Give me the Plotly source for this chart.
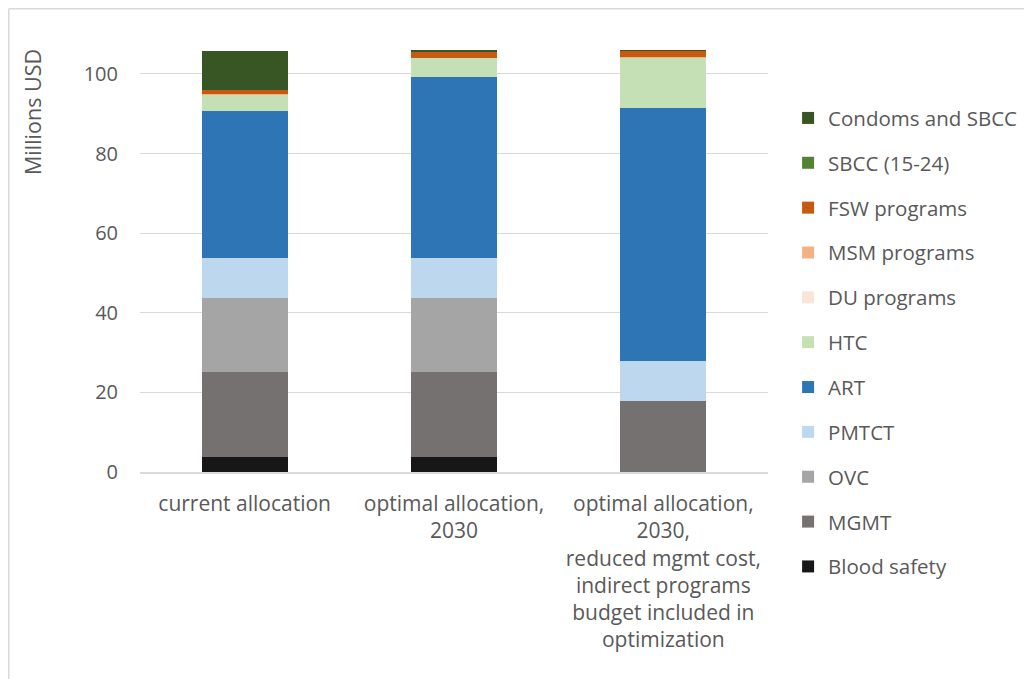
import plotly.graph_objects as go

categories = [
    "current allocation",
    "optimal allocation,<br>2030",
    "optimal allocation,<br>2030,<br>reduced mgmt cost,<br>indirect programs<br>budget included in<br>optimization",
]

blood_safety = [3.7, 3.7, 0.0]
mgmt = [21.4, 21.4, 17.8]
ovc = [18.5, 18.5, 0.0]
pmtct = [10.1, 10.1, 10.1]
art = [37.1, 45.4, 63.6]
htc = [4.1, 4.9, 12.7]
du_programs = [0.0, 0.0, 0.0]
msm_programs = [0.1, 0.1, 0.1]
fsw_programs = [1.0, 1.6, 1.5]
sbcc_15_24 = [0.0, 0.0, 0.0]
condoms_sbcc = [9.8, 0.15, 0.1]

y_ticks = [0, 20, 40, 60, 80, 100]

series = [
    ("Blood safety", blood_safety, "#171717"),
    ("MGMT", mgmt, "#767171"),
    ("OVC", ovc, "#a5a5a5"),
    ("PMTCT", pmtct, "#bdd7ee"),
    ("ART", art, "#2e75b6"),
    ("HTC", htc, "#c5e0b4"),
    ("DU programs", du_programs, "#fbe5d6"),
    ("MSM programs", msm_programs, "#f4b183"),
    ("FSW programs", fsw_programs, "#c55a11"),
    ("SBCC (15-24)", sbcc_15_24, "#548235"),
    ("Condoms and SBCC", condoms_sbcc, "#375623"),
]

FONT = "Open Sans"
TXT = "#595959"

fig = go.Figure()
n = len(series)
for i, (name, vals, col) in enumerate(series):
    fig.add_trace(go.Bar(
        x=categories, y=vals, name=name, legendgroup=name,
        legendrank=n - i,
        marker=dict(color=col, line=dict(width=0)),
    ))

fig.update_layout(
    barmode="stack",
    bargap=0.59,
    width=1032, height=679,
    margin=dict(l=132, r=272, t=42, b=215, autoexpand=False),
    paper_bgcolor="white", plot_bgcolor="white",
    font=dict(family=FONT, size=20, color=TXT),
    legend=dict(
        traceorder="grouped",
        tracegroupgap=15.2,
        x=1.032, xanchor="left", y=0.886, yanchor="top",
        font=dict(family=FONT, size=20.5, color=TXT),
        itemwidth=30,
        maxheight=620,
        bgcolor="rgba(0,0,0,0)",
    ),
    xaxis=dict(
        automargin=False,
        showgrid=False, showline=True, linecolor="#d9d9d9", linewidth=1.5,
        ticks="", tickfont=dict(family=FONT, size=21, color=TXT),
        ticklabelstandoff=12,
    ),
    yaxis=dict(
        automargin=False,
        range=[0, 106], tickvals=y_ticks,
        showgrid=True, gridcolor="#d9d9d9", gridwidth=1.2,
        zeroline=False, showline=False, ticks="",
        tickfont=dict(family=FONT, size=20, color=TXT),
        ticklabelstandoff=21,
    ),
    annotations=[
        dict(text="Millions USD", xref="paper", yref="paper", x=-0.172, y=0.853,
             textangle=-90, showarrow=False, xanchor="center", yanchor="middle",
             font=dict(family=FONT, size=21.5, color=TXT)),
    ],
    shapes=[
        dict(type="line", xref="paper", yref="paper", x0=-0.209, x1=1.433, y0=1.0978, y1=1.0978,
             line=dict(color="#d9d9d9", width=1.5)),
        dict(type="line", xref="paper", yref="paper", x0=-0.209, x1=-0.209, y0=1.0978, y1=-0.6,
             line=dict(color="#d9d9d9", width=1.5)),
    ],
)

fig.write_html("out.html")
